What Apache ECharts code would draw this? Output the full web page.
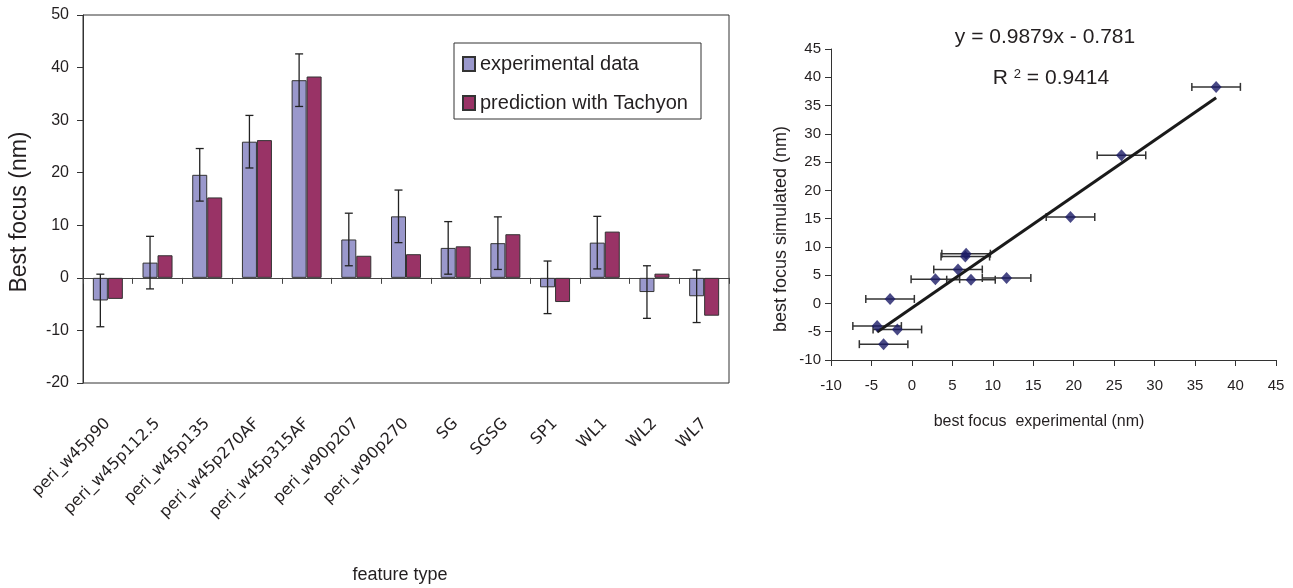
<!DOCTYPE html>
<html>
<head>
<meta charset="utf-8">
<script src="https://cdn.jsdelivr.net/npm/echarts@6/dist/echarts.min.js"></script>
<style>
  html, body { margin: 0; padding: 0; background: #fff; }
  #chart { width: 1293px; height: 588px; }
</style>
</head>
<body>
<div id="chart"></div>
<script>
// Feature types on the bar chart
const categories = ['peri_w45p90', 'peri_w45p112.5', 'peri_w45p135', 'peri_w45p270AF', 'peri_w45p315AF',
  'peri_w90p207', 'peri_w90p270', 'SG', 'SGSG', 'SP1', 'WL1', 'WL2', 'WL7'];
// Best focus (nm): measured and simulated
const experimental = [-4.3, 2.9, 19.6, 25.9, 37.6, 7.3, 11.7, 5.7, 6.6, -1.8, 6.7, -2.7, -3.5];
const prediction = [-4.0, 4.3, 15.3, 26.2, 38.3, 4.2, 4.5, 6.0, 8.3, -4.6, 8.8, 0.8, -7.2];
// Error bar half-widths (nm)
const barError = [5, 5, 5, 5, 5, 5, 5, 5, 5, 5, 5, 5, 5];
const scatterError = [3, 3, 3, 3, 3, 3, 3, 3, 3, 3, 3, 3, 3];
// Linear fit of simulated vs experimental
const fitSlope = 0.9879;
const fitIntercept = -0.781;
const fitR2 = 0.9414;
// Axis ranges
const barAxis = { min: -20, max: 50, interval: 10 };
const scatterAxis = { min: -10, max: 45, interval: 5 };

const SANS = '"Liberation Sans", Arial, sans-serif';
const WIDE = '"DejaVu Sans", sans-serif';
const INK = '#231f20';
const BAR_W = 15;

const chart = echarts.init(document.getElementById('chart'), null, { renderer: 'canvas' });

const errData = experimental.map((v, i) => [i, v - barError[i], v + barError[i]]);
const xErrData = experimental.map((v, i) => [v - scatterError[i], v + scatterError[i], prediction[i]]);
const pts = experimental.map((v, i) => [v, prediction[i]]);
const xLo = Math.min(...experimental), xHi = Math.max(...experimental);
const fitLine = [[xLo, fitSlope * xLo + fitIntercept], [xHi, fitSlope * xHi + fitIntercept]];

const option = {
  animation: false,
  backgroundColor: '#fff',
  textStyle: { fontFamily: SANS, color: INK },
  grid: [
    { left: 83, right: 564, top: 15, bottom: 205, show: true, borderColor: '#333', borderWidth: 1, backgroundColor: 'transparent' },
    { left: 831, right: 17, top: 49, bottom: 228 }
  ],
  legend: {
    orient: 'vertical', left: 462, top: 54, padding: 0, itemGap: 19,
    itemWidth: 12, itemHeight: 14, icon: 'rect',
    textStyle: { fontFamily: SANS, fontSize: 20, color: INK },
    data: ['experimental data', 'prediction with Tachyon']
  },
  xAxis: [
    {
      type: 'category', gridIndex: 0, data: categories,
      axisLine: { onZero: true, lineStyle: { color: '#444', width: 1 } },
      axisTick: { show: true, length: 6, interval: 0, lineStyle: { color: '#444' } },
      axisLabel: { show: false }, splitLine: { show: false }
    },
    {
      type: 'category', gridIndex: 0, data: categories, position: 'bottom',
      axisLine: { show: false, onZero: false }, axisTick: { show: false },
      axisLabel: { interval: 0, rotate: 45, margin: 38, fontFamily: WIDE, fontSize: 16, color: INK },
      splitLine: { show: false }
    },
    {
      type: 'value', gridIndex: 1, min: scatterAxis.min, max: scatterAxis.max, interval: scatterAxis.interval,
      axisLine: { onZero: false, lineStyle: { color: '#333' } },
      axisTick: { length: 6, lineStyle: { color: '#333' } },
      axisLabel: { margin: 18, fontSize: 15, color: INK, fontFamily: SANS },
      splitLine: { show: false }
    }
  ],
  yAxis: [
    {
      type: 'value', gridIndex: 0, min: barAxis.min, max: barAxis.max, interval: barAxis.interval,
      axisLine: { show: true, lineStyle: { color: '#333' } },
      axisTick: { show: true, length: 6, lineStyle: { color: '#333' } },
      axisLabel: { margin: 14, fontSize: 16, color: INK, fontFamily: SANS },
      splitLine: { show: false }
    },
    {
      type: 'value', gridIndex: 1, min: scatterAxis.min, max: scatterAxis.max, interval: scatterAxis.interval,
      axisLine: { show: true, onZero: false, lineStyle: { color: '#333' } },
      axisTick: { show: true, length: 6, lineStyle: { color: '#333' } },
      axisLabel: { margin: 10, fontSize: 15, color: INK, fontFamily: SANS },
      splitLine: { show: false }
    }
  ],
  series: [
    {
      name: 'experimental data', type: 'bar', xAxisIndex: 0, yAxisIndex: 0,
      data: experimental, barWidth: BAR_W, barGap: '0%',
      itemStyle: { color: '#9a98cc', borderColor: '#333', borderWidth: 1 }
    },
    {
      name: 'prediction with Tachyon', type: 'bar', xAxisIndex: 0, yAxisIndex: 0,
      data: prediction, barWidth: BAR_W, barGap: '0%',
      itemStyle: { color: '#993366', borderColor: '#333', borderWidth: 1 }
    },
    {
      // vertical error bars on the experimental bars
      type: 'custom', xAxisIndex: 0, yAxisIndex: 0, data: errData, z: 5,
      renderItem: function (params, api) {
        const lo = api.coord([api.value(0), api.value(1)]);
        const hi = api.coord([api.value(0), api.value(2)]);
        const x = lo[0] - BAR_W / 2;
        const cap = 4;
        const st = { stroke: '#222', lineWidth: 1.3 };
        return {
          type: 'group', children: [
            { type: 'line', shape: { x1: x, y1: lo[1], x2: x, y2: hi[1] }, style: st },
            { type: 'line', shape: { x1: x - cap, y1: lo[1], x2: x + cap, y2: lo[1] }, style: st },
            { type: 'line', shape: { x1: x - cap, y1: hi[1], x2: x + cap, y2: hi[1] }, style: st }
          ]
        };
      }
    },
    {
      // horizontal error bars on the scatter points
      type: 'custom', xAxisIndex: 2, yAxisIndex: 1, data: xErrData, z: 2,
      renderItem: function (params, api) {
        const a = api.coord([api.value(0), api.value(2)]);
        const b = api.coord([api.value(1), api.value(2)]);
        const cap = 4;
        const st = { stroke: '#333', lineWidth: 1.5 };
        return {
          type: 'group', children: [
            { type: 'line', shape: { x1: a[0], y1: a[1], x2: b[0], y2: b[1] }, style: st },
            { type: 'line', shape: { x1: a[0], y1: a[1] - cap, x2: a[0], y2: a[1] + cap }, style: st },
            { type: 'line', shape: { x1: b[0], y1: b[1] - cap, x2: b[0], y2: b[1] + cap }, style: st }
          ]
        };
      }
    },
    {
      type: 'line', xAxisIndex: 2, yAxisIndex: 1, data: fitLine, z: 3,
      symbol: 'none', lineStyle: { color: '#1a1a1a', width: 3 }
    },
    {
      type: 'scatter', xAxisIndex: 2, yAxisIndex: 1, data: pts, z: 4,
      symbol: 'diamond', symbolSize: [11, 12],
      itemStyle: { color: '#1a1a66' }
    }
  ],
  graphic: [
    { type: 'rect', shape: { x: 454, y: 43, width: 247, height: 76 }, style: { fill: 'none', stroke: '#333', lineWidth: 1 }, z: 10 },
    { type: 'text', x: 20, y: 212, rotation: Math.PI / 2,
      style: { text: 'Best focus (nm)', font: '23px ' + SANS, fill: INK, textAlign: 'center', textVerticalAlign: 'middle' } },
    { type: 'text', x: 400, y: 575,
      style: { text: 'feature type', font: '18px ' + SANS, fill: INK, textAlign: 'center', textVerticalAlign: 'middle' } },
    { type: 'text', x: 1045, y: 37,
      style: { text: 'y = ' + fitSlope + 'x - ' + Math.abs(fitIntercept), font: '21px ' + SANS, fill: INK, textAlign: 'center', textVerticalAlign: 'middle' } },
    { type: 'text', x: 1051, y: 78,
      style: {
        text: '{r|R }{s|2}{r| = ' + fitR2 + '}', textAlign: 'center', textVerticalAlign: 'middle',
        rich: {
          r: { fontFamily: SANS, fontSize: 21, fill: INK, color: INK },
          s: { fontFamily: SANS, fontSize: 13, fill: INK, color: INK, verticalAlign: 'top' }
        }
      } },
    { type: 'text', x: 1039, y: 422,
      style: { text: 'best focus  experimental (nm)', font: '16px ' + SANS, fill: INK, textAlign: 'center', textVerticalAlign: 'middle' } },
    { type: 'text', x: 781, y: 229, rotation: Math.PI / 2,
      style: { text: 'best focus simulated (nm)', font: '18px ' + SANS, fill: INK, textAlign: 'center', textVerticalAlign: 'middle' } }
  ]
};

chart.setOption(option);
</script>
</body>
</html>
